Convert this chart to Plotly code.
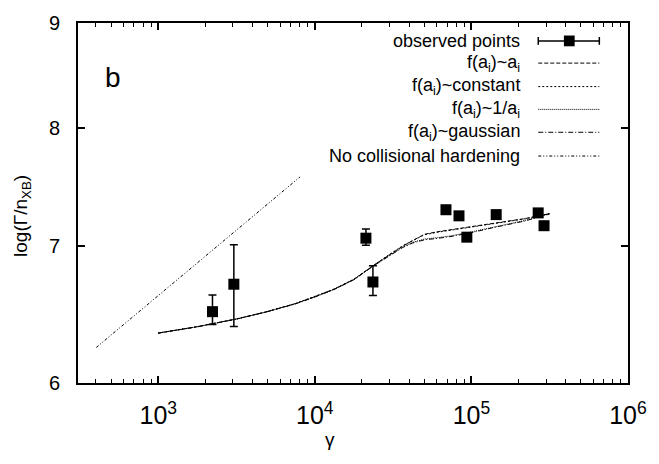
import plotly.graph_objects as go

# ---- data ----
obs_gamma = [2220, 3040, 21200, 23500, 68800, 83300, 93500, 144000, 267000, 291000]
obs_val = [6.502, 6.706, 7.063, 6.723, 7.293, 7.243, 7.071, 7.253, 7.267, 7.163]
obs_err_plus = [0.123, 0.305, 0.073, 0.125, 0, 0, 0, 0, 0, 0]
obs_err_minus = [0.093, 0.311, 0.056, 0.101, 0, 0, 0, 0, 0, 0]

model_gamma = [1000, 1778, 3162, 4870, 7500, 10000, 13300, 17800, 23700, 29400,
               36500, 42200, 50100, 60400, 72900, 100000, 137000, 221000, 316000]
f_ai = [6.347, 6.393, 6.449, 6.500, 6.561, 6.612, 6.669, 6.743, 6.850, 6.926,
        7.001, 7.044, 7.094, 7.114, 7.129, 7.153, 7.182, 7.221, 7.261]
f_const = [6.347, 6.393, 6.449, 6.500, 6.561, 6.613, 6.670, 6.745, 6.852, 6.929,
           7.004, 7.046, 7.090, 7.110, 7.126, 7.150, 7.179, 7.219, 7.262]
f_inv = [6.347, 6.393, 6.448, 6.499, 6.560, 6.611, 6.668, 6.742, 6.848, 6.922,
         6.994, 7.030, 7.056, 7.067, 7.080, 7.113, 7.152, 7.206, 7.262]
f_gauss = [6.347, 6.392, 6.448, 6.499, 6.559, 6.610, 6.667, 6.741, 6.846, 6.920,
           6.990, 7.025, 7.050, 7.061, 7.075, 7.107, 7.147, 7.202, 7.258]

nohard_gamma = [402, 8050]
nohard_val = [6.245, 7.568]

y_ticks = [6, 7, 8, 9]

legend_labels = ["observed points",
                 "f(a<sub>i</sub>)~a<sub>i</sub>",
                 "f(a<sub>i</sub>)~constant",
                 "f(a<sub>i</sub>)~1/a<sub>i</sub>",
                 "f(a<sub>i</sub>)~gaussian",
                 "No collisional hardening"]
line_dashes = [None, "4px,2px", "2px,2px", "1px,1px", "5px,2px,1px,2px", "3px,2px,1px,2px,1px,2px"]

FONT = "Liberation Sans, Arial, sans-serif"

fig = go.Figure()

curves = [f_ai, f_const, f_inv, f_gauss]
for vals, dash, name in zip(curves, line_dashes[1:5], legend_labels[1:5]):
    fig.add_trace(go.Scatter(x=model_gamma, y=vals, mode="lines", name=name,
                             line=dict(color="black", width=1, dash=dash),
                             showlegend=False))

fig.add_trace(go.Scatter(x=nohard_gamma, y=nohard_val, mode="lines",
                         name=legend_labels[5],
                         line=dict(color="black", width=1, dash=line_dashes[5]),
                         showlegend=False))

fig.add_trace(go.Scatter(x=obs_gamma, y=obs_val, mode="markers", name=legend_labels[0],
                         marker=dict(symbol="square", size=11, color="black"),
                         error_y=dict(type="data", symmetric=False,
                                      array=obs_err_plus, arrayminus=obs_err_minus,
                                      color="black", thickness=1.5, width=4),
                         showlegend=False))

# ---- gnuplot-style legend (text left, sample right) ----
L, R, T, B = 78, 640, 15, 383
def px(x):
    return (x - L) / (R - L)
def py(y):
    return (B - y) / (B - T)

row_y = [33.3, 56, 80, 103.3, 126.7, 151]
shapes = []
annotations = []
for i, (lab, dash) in enumerate(zip(legend_labels, line_dashes)):
    yy = py(row_y[i])
    annotations.append(dict(text=lab, x=px(531.7), y=yy, xref="paper", yref="paper",
                            xanchor="right", yanchor="middle", showarrow=False,
                            font=dict(family=FONT, size=18, color="black")))
    line = dict(color="black", width=1)
    if dash:
        line["dash"] = dash
    else:
        line["width"] = 1.5
    shapes.append(dict(type="line", xref="paper", yref="paper",
                       x0=px(548.3), x1=px(610.7), y0=yy, y1=yy, line=line))
    if i == 0:
        for xc in (548.3, 610.7):
            shapes.append(dict(type="line", xref="paper", yref="paper",
                               x0=px(xc), x1=px(xc), y0=py(row_y[0] - 4), y1=py(row_y[0] + 4),
                               line=dict(color="black", width=1.5)))
        shapes.append(dict(type="rect", xref="paper", yref="paper",
                           x0=px(580 - 5.5), x1=px(580 + 5.5),
                           y0=py(row_y[0] + 5.5), y1=py(row_y[0] - 5.5),
                           fillcolor="black", line=dict(width=0)))

annotations.append(dict(text="b", x=px(114), y=py(71), xref="paper", yref="paper",
                        xanchor="center", yanchor="middle", showarrow=False,
                        font=dict(family=FONT, size=28, color="black")))
annotations.append(dict(text="γ", x=px(336), y=py(441), xref="paper", yref="paper",
                        xanchor="center", yanchor="middle", showarrow=False,
                        font=dict(family=FONT, size=19, color="black")))
annotations.append(dict(text="log(Γ/n<sub>XB</sub>)", x=px(20), y=py(212),
                        xref="paper", yref="paper", textangle=-90,
                        xanchor="center", yanchor="middle", showarrow=False,
                        font=dict(family=FONT, size=19, color="black")))

axis_common = dict(showline=True, linecolor="black", linewidth=2, mirror="allticks",
                   ticks="inside", ticklen=7, tickwidth=1.5, tickcolor="black",
                   showgrid=False, zeroline=False,
                   tickfont=dict(family=FONT, size=20, color="black"))

fig.update_layout(
    width=659, height=464,
    margin=dict(l=L, r=659 - R, t=T, b=464 - B),
    paper_bgcolor="white", plot_bgcolor="white",
    font=dict(family=FONT, color="black"),
    showlegend=False,
    shapes=shapes, annotations=annotations,
    xaxis=dict(type="log", range=[2.4875, 6.0001], dtick=1, exponentformat="power",
               minor=dict(ticks="inside", ticklen=4, tickcolor="black", tickwidth=1,
                          dtick="D1", showgrid=False),
               ticklabelstandoff=10, **axis_common),
    yaxis=dict(type="log", range=[0.778151, 0.954243], tickmode="array",
               tickvals=y_ticks, ticktext=[str(v) for v in y_ticks],
               ticklabelstandoff=12, **axis_common),
)

fig.write_html("out.html")
